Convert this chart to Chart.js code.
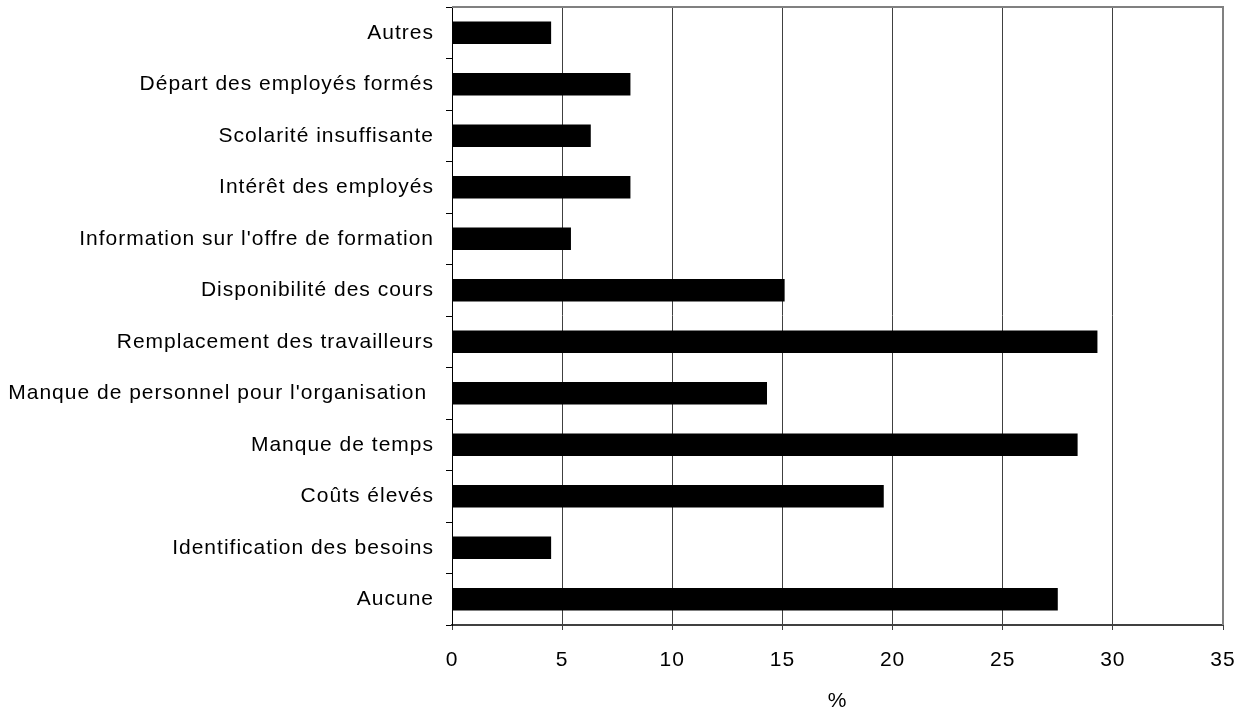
<!DOCTYPE html>
<html>
<head>
<meta charset="utf-8">
<script src="https://cdn.jsdelivr.net/npm/chart.js@4"></script>
<style>
  html, body { margin: 0; padding: 0; background: #fff; }
  #wrap { width: 1247px; height: 710px; position: relative; }
</style>
</head>
<body>
<div id="wrap"><canvas id="chart"></canvas></div>
<script>
// categories, top to bottom as in the picture
const categories = [
  "Autres",
  "Départ des employés formés",
  "Scolarité insuffisante",
  "Intérêt des employés",
  "Information sur l'offre de formation",
  "Disponibilité des cours",
  "Remplacement des travailleurs",
  "Manque de personnel pour l'organisation ",
  "Manque de temps",
  "Coûts élevés",
  "Identification des besoins",
  "Aucune"
];
const percents = [4.5, 8.1, 6.3, 8.1, 5.4, 15.1, 29.3, 14.3, 28.4, 19.6, 4.5, 27.5];
const xMin = 0, xMax = 35, xStep = 5;
const xTitle = "%";

const FONT = "'Liberation Sans', Arial, sans-serif";
const SPACING = "1px";

// slightly wide letter spacing like the original rendering
const spacingPlugin = {
  id: "spacing",
  beforeLayout(chart) { chart.ctx.letterSpacing = SPACING; },
  beforeDraw(chart) { chart.ctx.letterSpacing = SPACING; }
};

// grey frame on top and right of the plot area
const framePlugin = {
  id: "frame",
  afterDatasetsDraw(chart) {
    const { ctx, chartArea: a } = chart;
    ctx.save();
    ctx.strokeStyle = "#808080";
    ctx.lineWidth = 2;
    ctx.beginPath();
    ctx.moveTo(a.left, a.top);
    ctx.lineTo(a.right, a.top);
    ctx.lineTo(a.right, a.bottom);
    ctx.stroke();
    ctx.restore();
  }
};

new Chart(document.getElementById("chart"), {
  type: "bar",
  data: {
    labels: categories,
    datasets: [{
      data: percents,
      backgroundColor: "#000",
      borderWidth: 0,
      barPercentage: 0.435,
      categoryPercentage: 1
    }]
  },
  options: {
    indexAxis: "y",
    responsive: true,
    maintainAspectRatio: false,
    animation: false,
    layout: { padding: { top: 7, right: 24, left: 0, bottom: 0 } },
    plugins: {
      legend: { display: false },
      tooltip: { enabled: false }
    },
    scales: {
      x: {
        min: xMin,
        max: xMax,
        afterFit(scale) {
          scale.height = 85;
          scale.paddingLeft = 0;
          scale.paddingRight = 0;
        },
        ticks: {
          stepSize: xStep,
          color: "#000",
          padding: 18,
          font: { family: FONT, size: 21 },
          maxRotation: 0
        },
        grid: {
          color: "#404040",
          lineWidth: 1,
          tickLength: 5,
          tickColor: "#404040"
        },
        border: { color: "#404040", width: 2 },
        title: {
          display: true,
          text: xTitle,
          color: "#000",
          font: { family: FONT, size: 21, lineHeight: 1 },
          padding: { top: 0, bottom: -2 }
        }
      },
      y: {
        afterFit(scale) {
          scale.width = 452;
          scale.paddingTop = 0;
          scale.paddingBottom = 0;
        },
        ticks: {
          color: "#000",
          padding: 12,
          font: { family: FONT, size: 21 }
        },
        grid: {
          offset: true,
          drawOnChartArea: false,
          tickLength: 6,
          tickColor: "#000"
        },
        border: { color: "#000", width: 1 }
      }
    }
  },
  plugins: [spacingPlugin, framePlugin]
});
</script>
</body>
</html>
